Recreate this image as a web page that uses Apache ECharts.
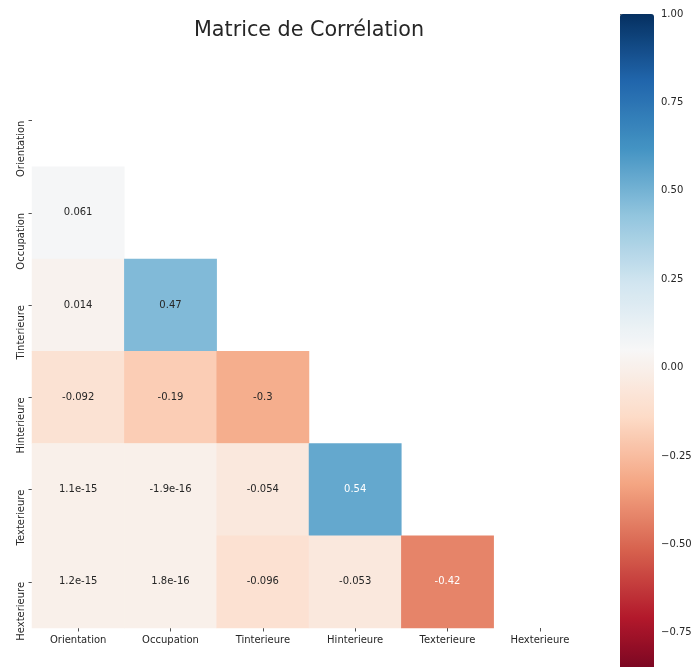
<!DOCTYPE html>
<html>
<head>
<meta charset="utf-8">
<script src="https://cdn.jsdelivr.net/npm/echarts@6/dist/echarts.min.js"></script>
<style>
  html, body { margin: 0; padding: 0; background: #ffffff; }
  #chart { width: 693px; height: 667px; }
</style>
</head>
<body>
<div id="chart"></div>
<script>
// ---- data ----
const variables = ['Orientation', 'Occupation', 'Tinterieure', 'Hinterieure', 'Texterieure', 'Hexterieure'];
// lower triangle rows (row variable vs. earlier columns)
const corrOccupation  = [0.061];
const corrTinterieure = [0.014, 0.47];
const corrHinterieure = [-0.092, -0.19, -0.3];
const corrTexterieure = [1.1e-15, -1.9e-16, -0.054, 0.54];
const corrHexterieure = [1.2e-15, 1.8e-16, -0.096, -0.053, -0.42];
const colorMin = -0.9;
const colorMax = 1.0;
const colorbarTickStep = 0.25;
const titleText = 'Matrice de Corrélation';

const rdbu = ['#67001f', '#b2182b', '#d6604d', '#f4a582', '#fddbc7', '#f7f7f7',
              '#d1e5f0', '#92c5de', '#4393c3', '#2166ac', '#053061'];

function hexToRgb(h) {
  return [parseInt(h.slice(1, 3), 16), parseInt(h.slice(3, 5), 16), parseInt(h.slice(5, 7), 16)];
}
function colorAt(v) {
  let t = (v - colorMin) / (colorMax - colorMin);
  t = Math.max(0, Math.min(1, t));
  const pos = t * (rdbu.length - 1);
  const i = Math.min(rdbu.length - 2, Math.floor(pos));
  const f = pos - i;
  const a = hexToRgb(rdbu[i]), b = hexToRgb(rdbu[i + 1]);
  return a.map((c, k) => (c + (b[k] - c) * f) / 255);
}
function luminance(rgb) {
  const lin = rgb.map(c => c <= 0.03928 ? c / 12.92 : Math.pow((c + 0.055) / 1.055, 2.4));
  return 0.2126 * lin[0] + 0.7152 * lin[1] + 0.0722 * lin[2];
}
function fmt2g(v) {
  if (v === 0) return '0';
  const e = Math.floor(Math.log10(Math.abs(v)));
  if (e < -4 || e >= 2) {
    return v.toExponential(1).replace(/\.0e/, 'e').replace(/e([+-])(\d)$/, 'e$10$2');
  }
  let s = v.toPrecision(2);
  if (s.indexOf('.') >= 0) s = s.replace(/0+$/, '').replace(/\.$/, '');
  return s;
}

const rows = [[], corrOccupation, corrTinterieure, corrHinterieure, corrTexterieure, corrHexterieure];
const heatData = [];
rows.forEach((row, yi) => {
  row.forEach((v, xi) => {
    const lum = luminance(colorAt(v));
    heatData.push({
      value: [xi, yi, v],
      label: { color: lum > 0.408 ? '#262626' : '#ffffff' }
    });
  });
});

const txt = '#262626';
const font = 'DejaVu Sans';
const unitPx = 353.6; // colorbar pixels per 1.0

const chart = echarts.init(document.getElementById('chart'), null, { renderer: 'canvas' });
chart.setOption({
  animation: false,
  backgroundColor: '#ffffff',
  title: {
    text: titleText,
    left: 194,
    top: 20,
    padding: 0,
    textStyle: { fontFamily: font, fontSize: 20.7, fontWeight: 'normal', color: txt }
  },
  grid: [
    { left: 32, top: 74.5, width: 554, height: 553.5, outerBoundsMode: 'none', containLabel: false },
    { left: 620, top: 14, width: 34, height: unitPx * 2, outerBoundsMode: 'none', containLabel: false }
  ],
  xAxis: [
    {
      type: 'category', gridIndex: 0, data: variables,
      axisLine: { show: false },
      axisTick: { show: true, alignWithLabel: true, length: 3.5, lineStyle: { color: txt, width: 0.8 } },
      axisLabel: { interval: 0, fontFamily: font, fontSize: 10, color: txt, margin: 7 },
      splitLine: { show: false }, splitArea: { show: false }
    },
    { type: 'value', gridIndex: 1, show: false, min: 0, max: 1 }
  ],
  yAxis: [
    {
      type: 'category', gridIndex: 0, data: variables, inverse: true,
      axisLine: { show: false },
      axisTick: { show: true, alignWithLabel: true, length: 3.5, lineStyle: { color: txt, width: 0.8 } },
      axisLabel: { interval: 0, rotate: 90, align: 'right', fontFamily: font, fontSize: 10, color: txt, margin: 6 },
      splitLine: { show: false }, splitArea: { show: false }
    },
    {
      type: 'value', gridIndex: 1, position: 'right', min: -1, max: 1, interval: colorbarTickStep,
      axisLine: { show: false },
      axisTick: { show: true, length: 3.5, lineStyle: { color: txt, width: 0.8 } },
      axisLabel: {
        fontFamily: font, fontSize: 10, color: txt, margin: 7,
        padding: [4, 0, 0, 0],
        formatter: v => v.toFixed(2).replace('-', '\u2212')
      },
      splitLine: { show: false }
    }
  ],
  visualMap: {
    type: 'continuous',
    seriesIndex: 0,
    min: colorMin, max: colorMax,
    calculable: false,
    realtime: false,
    hoverLink: false,
    text: null,
    padding: 0,
    left: 620, top: 14,
    itemWidth: 34, itemHeight: unitPx * (colorMax - colorMin),
    orient: 'vertical',
    inRange: { color: rdbu }
  },
  series: [
    {
      type: 'heatmap',
      xAxisIndex: 0, yAxisIndex: 0,
      data: heatData,
      label: {
        show: true,
        fontFamily: font, fontSize: 10,
        formatter: p => fmt2g(p.value[2])
      },
      itemStyle: { borderWidth: 0 },
      emphasis: { disabled: true }
    }
  ]
});
</script>
</body>
</html>
